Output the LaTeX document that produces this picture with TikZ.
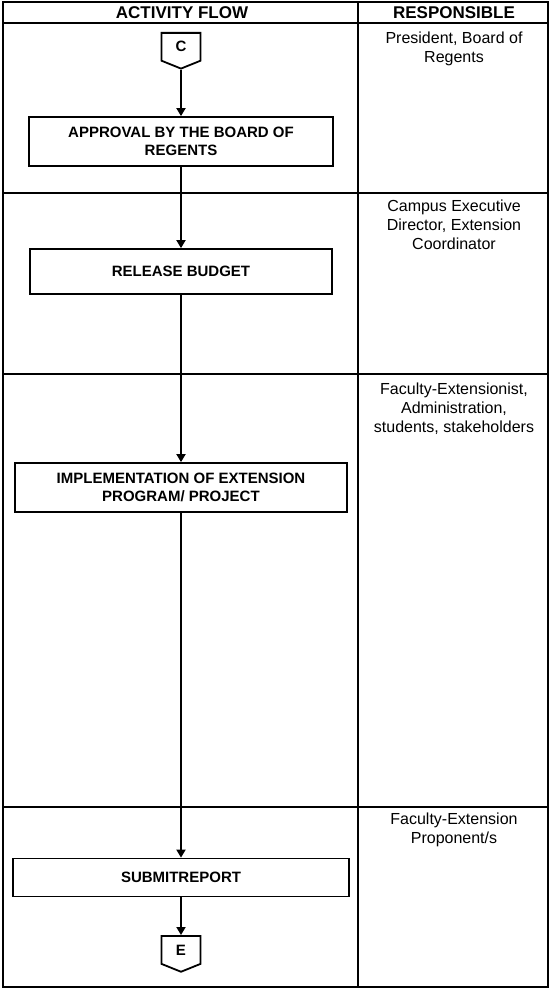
\documentclass[tikz,border=0pt]{standalone}
\usepackage{fontspec}
\setmainfont{Liberation Sans}
\usetikzlibrary{shapes.symbols, arrows.meta}

\begin{document}
\begin{tikzpicture}[x=0.5pt, y=-0.5pt, line width=0.9pt,
    activity/.style={draw, rectangle, align=center, inner sep=0pt, font=\bfseries\fontsize{7.5}{9}\selectfont},
    offpage/.style={draw, signal, signal to=south, signal pointer angle=136, inner sep=0pt, minimum width=19.5pt, minimum height=15pt, font=\bfseries\fontsize{7.5}{8}\selectfont},
    resp/.style={align=center, anchor=north, inner sep=0pt, font=\fontsize{8}{9.5}\selectfont},
    header/.style={inner sep=0pt, font=\bfseries\fontsize{8.5}{10}\selectfont},
    flow/.style={-{Triangle[length=4pt, width=4.5pt]}}]
    \useasboundingbox (0,0) rectangle (551,990);

    % table
    \draw[line width=0.8pt] (3,2) rectangle (548,987);
    \draw[line width=0.8pt] (358,2) -- (358,987);
    \foreach \y in {23,193,374,807}
        \draw[line width=0.8pt] (3,\y) -- (548,\y);

    \node (hflow) [header] at (182,13) {ACTIVITY FLOW};
    \node (hresp) [header] at (454,13) {RESPONSIBLE};

    % activity flow
    \node (cin) [offpage, anchor=north] at (181,32) {C};
    \node (approval) [activity, minimum width=152pt, minimum height=24.5pt] at (181,141.5) {APPROVAL BY THE BOARD OF\\REGENTS};
    \node (release) [activity, minimum width=151pt, minimum height=22.5pt] at (181,271.5) {RELEASE BUDGET};
    \node (implement) [activity, minimum width=166pt, minimum height=24.5pt] at (181,487.5) {IMPLEMENTATION OF EXTENSION\\PROGRAM/ PROJECT};
    \node (report) [activity, minimum width=168pt, minimum height=19pt] at (181,877.5) {SUBMITREPORT};
    \node (eout) [offpage, anchor=north] at (181,935) {E};

    \draw[flow] (cin.south) -- (approval);
    \draw[flow] (approval) -- (release);
    \draw[flow] (release) -- (implement);
    \draw[flow] (implement) -- (report);
    \draw[flow] (report) -- (eout.north);

    % responsible
    \node (rboard) [resp] at (454,31) {President, Board of\\Regents};
    \node (rcampus) [resp] at (454,199) {Campus Executive\\Director, Extension\\Coordinator};
    \node (rfaculty) [resp] at (454,382) {Faculty-Extensionist,\\Administration,\\students, stakeholders};
    \node (rproponent) [resp] at (454,812) {Faculty-Extension\\Proponent/s};
\end{tikzpicture}
\end{document}
